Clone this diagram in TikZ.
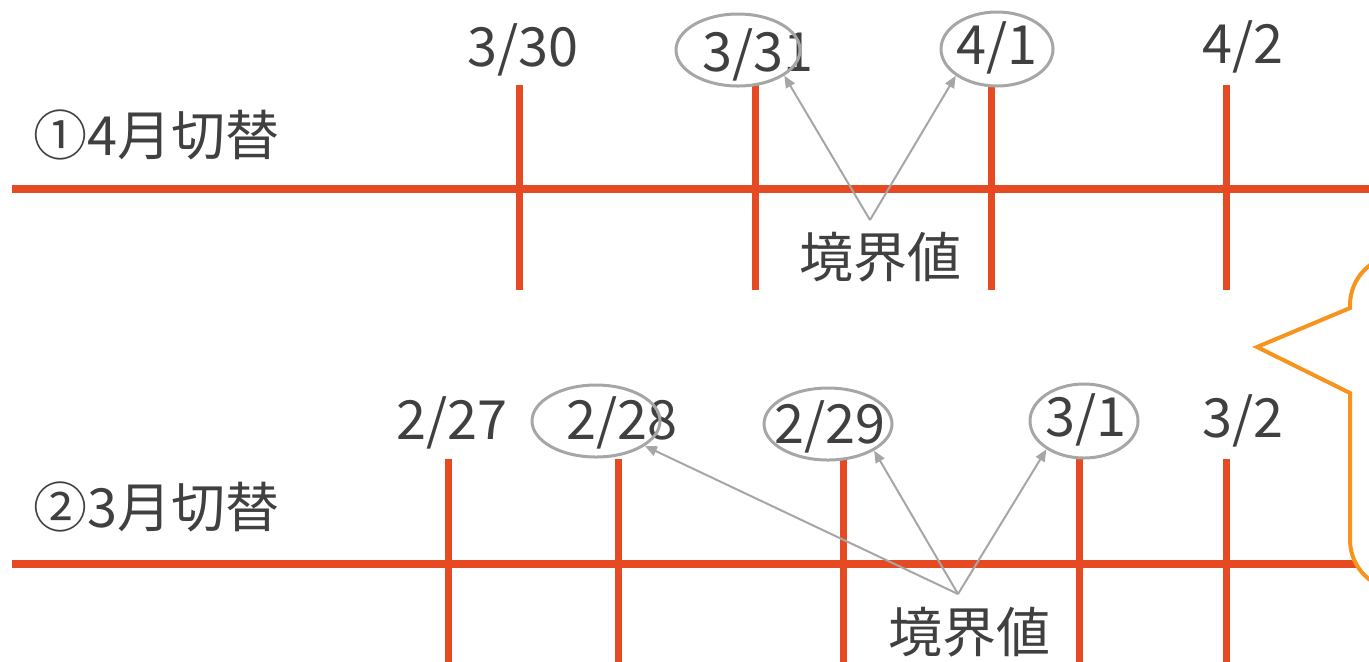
\documentclass[tikz,border=0pt]{standalone}
\usepackage{fontspec}
\setmainfont{Noto Sans CJK JP}
\usetikzlibrary{arrows.meta,shapes.geometric}
\definecolor{tl}{HTML}{E64A23}
\definecolor{txt}{HTML}{404040}
\definecolor{gr}{HTML}{A6A6A6}
\definecolor{orng}{HTML}{F7941D}
\begin{document}
\begin{tikzpicture}[x=0.5pt,y=-0.5pt,
  lbl/.style={font=\fontsize{27pt}{30pt}\selectfont, text=txt, inner sep=0pt},
  axis/.style={draw=tl, line width=4pt},
  tick/.style={draw=tl, line width=3.5pt},
  oval/.style={ellipse, draw=gr, line width=1.5pt, inner sep=0pt},
  arr/.style={draw=gr, line width=1pt, -{Triangle[length=6pt,width=5pt]}},
  bubble/.style={draw=orng, fill=white, line width=2pt, line join=miter}]
\useasboundingbox (0,0) rectangle (1369,661);
% ---- row 1 ----
\coordinate (r1s) at (12,189);
\coordinate (r1e) at (1369,189);
\draw[axis] (r1s) -- (r1e);
\foreach \n/\x in {t1/519,t2/755,t3/991,t4/1226}{
  \coordinate (\n a) at (\x,85); \coordinate (\n b) at (\x,290);
  \draw[tick] (\n a) -- (\n b);}
\node[lbl, anchor=west] (lab1) at (33,135) {①4月切替};
\node[lbl] (d330) at (523,50) {3/30};
\node[lbl] (d331) at (758,55) {3/31};
\node[lbl] (d41) at (997,48) {4/1};
\node[lbl] (d42) at (1243,47) {4/2};
\node[oval, minimum width=62pt, minimum height=36pt] (e331) at (738,50) {};
\node[oval, minimum width=56pt, minimum height=37pt] (e41) at (997,49) {};
\node[lbl] (b1) at (880,257) {境界値};
\coordinate (a1) at (870,220);
\draw[arr] (a1) -- (e331.331);
\draw[arr] (a1) -- (e41.213);
% ---- row 2 ----
\coordinate (r2s) at (12,564);
\coordinate (r2e) at (1369,564);
\draw[axis] (r2s) -- (r2e);
\foreach \n/\x in {u1/448,u2/618,u3/843,u4/1079,u5/1226}{
  \coordinate (\n a) at (\x,459); \coordinate (\n b) at (\x,670);
  \draw[tick] (\n a) -- (\n b);}
\node[lbl, anchor=west] (lab2) at (33,507) {②3月切替};
\node[lbl] (d227) at (452,423) {2/27};
\node[lbl] (d228) at (622,423) {2/28};
\node[lbl] (d229) at (830,427) {2/29};
\node[lbl] (d31) at (1086,420) {3/1};
\node[lbl] (d32) at (1243,421) {3/2};
\node[oval, minimum width=64pt, minimum height=36pt] (e228) at (596,421) {};
\node[oval, minimum width=64pt, minimum height=36pt] (e229) at (828,424) {};
\node[oval, minimum width=54pt, minimum height=37pt] (e31) at (1084,421) {};
\node[lbl] (b2) at (969,632) {境界値};
\coordinate (a2) at (958,594);
\draw[arr] (a2) -- (e228.333);
\draw[arr] (a2) -- (e229.330);
\draw[arr] (a2) -- (e31.217);
% ---- callout ----
\draw[bubble] (1430,255) -- (1400,255) .. controls (1372.4,255) and (1350,277.6) .. (1350,305)
  -- (1350,308) -- (1257,347) -- (1350,393) -- (1350,540)
  .. controls (1350,567.6) and (1372.4,590) .. (1400,590) -- (1430,590);
\end{tikzpicture}
\end{document}
